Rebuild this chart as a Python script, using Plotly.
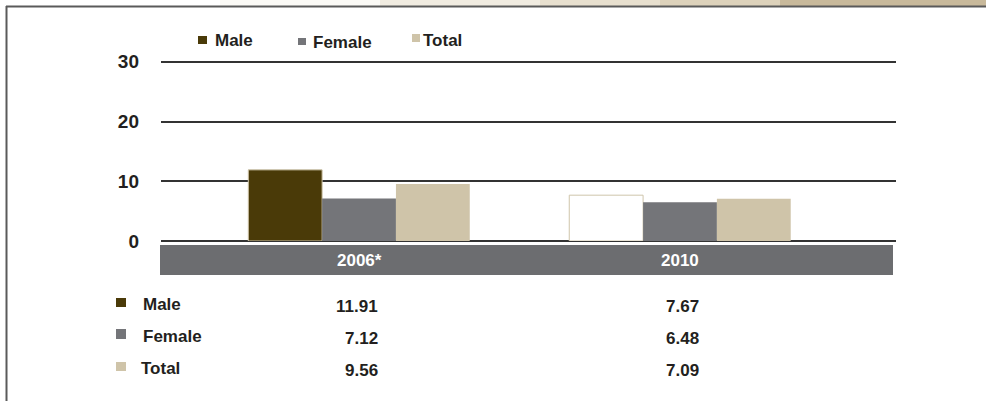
import plotly.graph_objects as go

# ---- data ----
categories = ["2006*", "2010"]
series_names = ["Male", "Female", "Total"]
male = [11.91, 7.67]
female = [7.12, 6.48]
total = [9.56, 7.09]
value_labels = {
    "Male": ["11.91", "7.67"],
    "Female": ["7.12", "6.48"],
    "Total": ["9.56", "7.09"],
}
y_ticks = [0, 10, 20, 30]

# ---- styling ----
W, H = 986, 401
L, R, T, B = 161, 90, 60, 160
FONT = "Liberation Sans, Arial, Helvetica, sans-serif"
TXT = "#231f20"
COL = {"Male": "#4a3a08", "Female": "#747579", "Total": "#cfc4a9"}
BORDER = "#cfc5ab"


def px(x):
    return (x - L) / (W - L - R)


def py(y):
    return (H - B - y) / (H - T - B)


fig = go.Figure()
series_vals = {"Male": male, "Female": female, "Total": total}
for name in series_names:
    vals = series_vals[name]
    if name == "Male":
        colors = [COL["Male"], "#ffffff"]
        line = dict(color=BORDER, width=1)
    else:
        colors = COL[name]
        line = dict(width=0)
    fig.add_trace(go.Bar(
        x=categories, y=vals, name=name,
        marker=dict(color=colors, line=line),
        hoverinfo="skip", showlegend=False,
    ))

shapes = []
annotations = []

# top decorative strip and frame
for x0, x1, c in [(220, 380, "#fbfaf6"), (380, 540, "#f1ece1"), (540, 660, "#e8e0cf"),
                  (660, 780, "#ddd2bb"), (780, 986, "#c8b99b")]:
    shapes.append(dict(type="rect", xref="paper", yref="paper", x0=px(x0), x1=px(x1),
                       y0=py(0), y1=py(6), line=dict(width=0), fillcolor=c, layer="below"))
shapes.append(dict(type="line", xref="paper", yref="paper", x0=px(6), x1=px(986),
                   y0=py(6.5), y1=py(6.5), line=dict(color="#5a5a5a", width=2)))
shapes.append(dict(type="line", xref="paper", yref="paper", x0=px(6.5), x1=px(6.5),
                   y0=py(6), y1=py(401), line=dict(color="#5a5a5a", width=2)))

# category band
shapes.append(dict(type="rect", xref="paper", yref="paper", x0=px(160), x1=px(893),
                   y0=py(275), y1=py(245), line=dict(width=0), fillcolor="#6c6d70",
                   layer="below"))
for i, c in enumerate(categories):
    annotations.append(dict(x=i, xref="x", y=py(260), yref="paper", text=c,
                            showarrow=False, xanchor="center", yanchor="middle",
                            font=dict(family=FONT, size=17, color="#ffffff", weight="bold")))

# top legend
top_leg = {"Male": (198, 207, 36, 44, 213, 41),
           "Female": (298, 306, 38, 45, 311, 43),
           "Total": (412, 420, 34, 42, 421, 40)}
for name in series_names:
    x0, x1, y0, y1, tx, ty = top_leg[name]
    shapes.append(dict(type="rect", xref="paper", yref="paper", x0=px(x0), x1=px(x1),
                       y0=py(y1), y1=py(y0), line=dict(width=0), fillcolor=COL[name]))
    annotations.append(dict(x=px(tx), xref="paper", y=py(ty), yref="paper", text=name,
                            showarrow=False, xanchor="left", yanchor="middle",
                            font=dict(family=FONT, size=17, color=TXT, weight="bold")))

# data table below
rows = {"Male": (298, 307, 141, 304, 306),
        "Female": (329, 339, 141, 336, 338),
        "Total": (362, 371, 139, 368, 370)}
for name in series_names:
    sy0, sy1, tx, ty, vy = rows[name]
    shapes.append(dict(type="rect", xref="paper", yref="paper", x0=px(116), x1=px(126),
                       y0=py(sy1), y1=py(sy0), line=dict(width=0), fillcolor=COL[name]))
    annotations.append(dict(x=px(tx), xref="paper", y=py(ty), yref="paper", text=name,
                            showarrow=False, xanchor="left", yanchor="middle",
                            font=dict(family=FONT, size=17, color=TXT, weight="bold")))
    for i, v in enumerate(value_labels[name]):
        annotations.append(dict(x=i, xref="x", y=py(vy), yref="paper", text=v,
                                showarrow=False, xanchor="right", yanchor="middle", xshift=21,
                                font=dict(family=FONT, size=17, color=TXT, weight="bold")))

fig.update_layout(
    width=W, height=H,
    margin=dict(l=L, r=R, t=T, b=B, pad=0),
    paper_bgcolor="#ffffff", plot_bgcolor="#ffffff",
    barmode="group", bargap=0.31, bargroupgap=0,
    shapes=shapes, annotations=annotations,
    showlegend=False,
    xaxis=dict(type="category", range=[-0.617, 1.673], showticklabels=False, showgrid=False,
               zeroline=False, showline=False, ticks="", fixedrange=True),
    yaxis=dict(range=[0, 30.3], tickvals=y_ticks, showgrid=True, gridcolor="#333333",
               gridwidth=1.5, zeroline=True, zerolinecolor="#333333", zerolinewidth=1.5,
               showline=False, ticks="", ticklabelstandoff=21,
               tickfont=dict(family=FONT, size=19, color=TXT, weight="bold"),
               fixedrange=True),
)

fig.write_html("out.html", config={"displayModeBar": False},
               post_script="document.body.style.margin='0';document.body.style.overflow='hidden';")
